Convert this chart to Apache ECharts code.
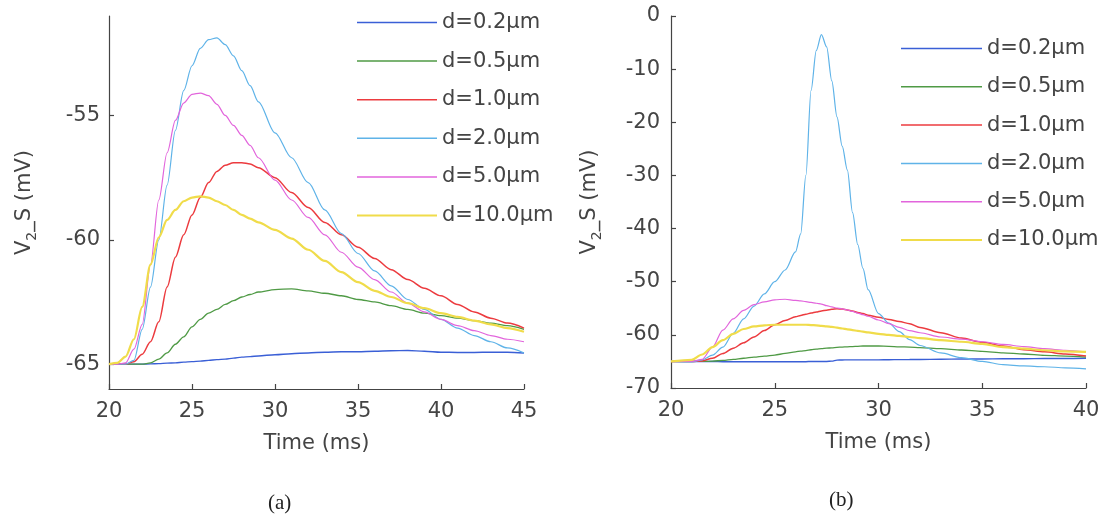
<!DOCTYPE html>
<html><head><meta charset="utf-8">
<script src="https://cdn.jsdelivr.net/npm/echarts@6/dist/echarts.min.js"></script>
<style>html,body{margin:0;padding:0;background:#fff}#c{width:1111px;height:516px}</style>
</head><body><div id="c"></div>
<script>
// legend names / colours
const names = ['d=0.2μm','d=0.5μm','d=1.0μm','d=2.0μm','d=5.0μm','d=10.0μm'];
const colors = ['#3a5fd6','#4f9a45','#ec3b3f','#5fb3e8','#e265dc','#f0dc4a'];
const widths = [1.4,1.3,1.5,1.2,1.2,2.2];

// panel (a): time (ms)
const tA = [20,20.5,21,21.5,22,22.5,23,23.5,24,24.5,25,25.5,26,26.5,27,27.5,28,28.5,29,30,31,32,33,34,35,36,37,38,39,40,41,42,43,44,45];
const blue02A = [-65,-65,-65,-65,-65,-64.99,-64.98,-64.96,-64.95,-64.92,-64.9,-64.88,-64.85,-64.82,-64.8,-64.76,-64.72,-64.7,-64.67,-64.62,-64.58,-64.55,-64.52,-64.5,-64.5,-64.48,-64.46,-64.45,-64.48,-64.52,-64.53,-64.53,-64.52,-64.52,-64.55];
const green05A = [-65,-65,-65,-65,-65,-64.95,-64.8,-64.55,-64.2,-63.9,-63.5,-63.2,-62.95,-62.8,-62.6,-62.45,-62.3,-62.2,-62.1,-62.0,-61.97,-62.05,-62.15,-62.25,-62.4,-62.5,-62.65,-62.8,-62.95,-63.05,-63.15,-63.25,-63.35,-63.45,-63.6];
const red10A = [-65,-65,-65,-64.9,-64.6,-64.1,-63.3,-61.9,-60.7,-59.8,-59.0,-58.3,-57.7,-57.25,-57.0,-56.9,-56.9,-56.95,-57.1,-57.5,-58.1,-58.7,-59.3,-59.8,-60.3,-60.75,-61.2,-61.6,-61.95,-62.25,-62.6,-62.9,-63.15,-63.35,-63.55];
const lb20A = [-65,-65,-65,-64.85,-63.6,-61.9,-60.0,-57.8,-55.6,-54.0,-53.0,-52.3,-51.95,-51.88,-52.15,-52.6,-53.2,-53.8,-54.45,-55.7,-56.7,-57.7,-58.8,-59.75,-60.55,-61.25,-61.85,-62.4,-62.8,-63.2,-63.55,-63.85,-64.1,-64.35,-64.55];
const mag50A = [-65,-65,-64.95,-64.4,-63.4,-61.0,-58.4,-56.5,-55.2,-54.5,-54.15,-54.1,-54.2,-54.55,-55.0,-55.4,-55.8,-56.2,-56.7,-57.6,-58.4,-59.1,-59.8,-60.5,-61.1,-61.6,-62.1,-62.55,-62.9,-63.2,-63.45,-63.65,-63.85,-64.0,-64.1];
const yel100A = [-65,-64.95,-64.7,-64.0,-62.7,-61.0,-59.9,-59.2,-58.8,-58.45,-58.3,-58.25,-58.3,-58.45,-58.6,-58.8,-59.0,-59.15,-59.3,-59.6,-59.95,-60.4,-60.85,-61.3,-61.7,-62.05,-62.3,-62.55,-62.75,-62.95,-63.1,-63.25,-63.4,-63.55,-63.7];

// panel (b): time (ms)
const tB = [20,21,21.5,22,22.5,23,23.5,24,24.5,25,25.5,26,26.25,26.5,26.75,27,27.25,27.5,27.75,28,28.25,28.5,28.75,29,29.25,29.5,30,30.5,31,31.5,32,33,34,35,36,37,38,39,40];
const blue02B = [-65,-65,-65,-65,-65.05,-65.05,-65.05,-65.05,-65.05,-65.05,-65.05,-65.05,-65.05,-65.05,-65.0,-65.0,-65.0,-65.0,-64.95,-64.75,-64.72,-64.7,-64.7,-64.7,-64.7,-64.7,-64.7,-64.68,-64.66,-64.65,-64.63,-64.6,-64.55,-64.55,-64.5,-64.5,-64.45,-64.45,-64.4];
const green05B = [-65,-65,-65,-64.95,-64.8,-64.6,-64.4,-64.2,-64.0,-63.8,-63.5,-63.2,-63.05,-62.95,-62.8,-62.7,-62.6,-62.5,-62.45,-62.35,-62.3,-62.25,-62.2,-62.15,-62.1,-62.1,-62.1,-62.15,-62.25,-62.3,-62.4,-62.6,-62.85,-63.1,-63.4,-63.6,-63.85,-64.0,-64.2];
const red10B = [-65,-65,-64.9,-64.4,-63.5,-62.5,-61.5,-60.4,-59.2,-58.1,-57.3,-56.6,-56.35,-56.1,-55.9,-55.7,-55.5,-55.35,-55.2,-55.1,-55.15,-55.3,-55.5,-55.8,-56.0,-56.3,-56.7,-57.1,-57.5,-57.9,-58.6,-59.6,-60.6,-61.4,-62.1,-62.8,-63.2,-63.6,-64.0];
const lb20B = [-65,-65.1,-64.7,-63.8,-62.3,-59.7,-57.0,-54.6,-52.3,-50.0,-47.8,-44.4,-41.0,-30.0,-14.0,-6.5,-3.5,-5.8,-12.2,-19.0,-24.5,-29.0,-37.0,-43.0,-47.5,-51.5,-56.0,-57.8,-59.4,-60.9,-62.0,-63.4,-64.3,-65.0,-65.6,-65.85,-66.0,-66.2,-66.4];
const mag50B = [-65,-65,-64.6,-62.3,-59.1,-57.0,-55.4,-54.3,-53.8,-53.4,-53.3,-53.5,-53.6,-53.75,-53.9,-54.05,-54.2,-54.5,-54.75,-54.95,-55.1,-55.3,-55.6,-55.9,-56.2,-56.5,-57.2,-57.9,-58.6,-59.2,-59.6,-60.4,-60.8,-61.3,-61.8,-62.2,-62.6,-62.9,-63.2];
const yel100B = [-65,-64.7,-63.7,-62.3,-61.0,-59.8,-58.9,-58.4,-58.2,-58.1,-58.1,-58.1,-58.1,-58.1,-58.15,-58.2,-58.3,-58.4,-58.5,-58.65,-58.8,-58.95,-59.1,-59.25,-59.4,-59.55,-59.8,-60.0,-60.2,-60.4,-60.6,-61.0,-61.3,-61.7,-62.3,-62.6,-62.9,-63.1,-63.2];

// tick labels
const yTicksA = [-65,-60,-55];
const panelLabels = ['(a)','(b)'];

const seriesA = [blue02A, green05A, red10A, lb20A, mag50A, yel100A];
const seriesB = [blue02B, green05B, red10B, lb20B, mag50B, yel100B];

const FONT = 'DejaVu Sans';
const TXT = '#444';

function mk(i, t, v, g) {
  return {
    type: 'line', name: names[i], xAxisIndex: g, yAxisIndex: g,
    data: t.map((x, k) => [x, v[k]]),
    symbol: 'none', smooth: 0.3, smoothMonotone: 'x',
    lineStyle: { color: colors[i], width: widths[i] },
    itemStyle: { color: colors[i] },
    z: 2
  };
}

function legendData(w) {
  return names.map((n, i) => {
    const h = Math.max(1.5, widths[i]);
    return { name: n, icon: 'path://M0,0L' + w + ',0L' + w + ',' + h + 'L0,' + h + 'Z' };
  });
}

function xAx(g, max) {
  return {
    type: 'value', gridIndex: g, min: 20, max: max, interval: 5,
    name: 'Time (ms)', nameLocation: 'middle', nameGap: 44,
    nameTextStyle: { fontFamily: FONT, fontSize: 21, color: TXT },
    axisLine: { show: true, onZero: false, lineStyle: { color: '#444', width: 1.2 } },
    axisTick: { show: true, inside: true, length: 5, lineStyle: { color: '#444', width: 1.2 } },
    axisLabel: { fontFamily: FONT, fontSize: 21, color: TXT, margin: 12 },
    splitLine: { show: false }
  };
}
const yName = '{a|V}{b|2}{a|_S (mV)}';
const yRich = {
  a: { fontFamily: FONT, fontSize: 21, color: TXT, lineHeight: 28 },
  b: { fontFamily: FONT, fontSize: 14, color: TXT, lineHeight: 16, verticalAlign: 'bottom' }
};

const option = {
  animation: false,
  backgroundColor: '#ffffff',
  title: [
    { text: panelLabels[0], left: 268, top: 493, padding: 0, textStyle: { fontFamily: 'Liberation Serif', fontSize: 21, fontWeight: 'normal', color: '#222' } },
    { text: panelLabels[1], left: 829, top: 490, padding: 0, textStyle: { fontFamily: 'Liberation Serif', fontSize: 21, fontWeight: 'normal', color: '#222' } }
  ],
  legend: [
    { data: legendData(80), orient: 'vertical', left: 357, top: 12, padding: 0, itemWidth: 80, itemHeight: 20, itemGap: 17.6,
      textStyle: { fontFamily: FONT, fontSize: 21, color: TXT, lineHeight: 20 } },
    { data: legendData(81), orient: 'vertical', left: 901, top: 38, padding: 0, itemWidth: 81, itemHeight: 20, itemGap: 17.3,
      textStyle: { fontFamily: FONT, fontSize: 21, color: TXT, lineHeight: 20 } }
  ],
  grid: [
    { left: 109, top: 16, width: 415, height: 373 },
    { left: 671, top: 16, width: 415, height: 372 }
  ],
  xAxis: [xAx(0, 45), xAx(1, 40)],
  yAxis: [
    { type: 'value', gridIndex: 0, min: -66, max: -51,
      name: yName, nameLocation: 'middle', nameGap: 70, nameRotate: 90,
      nameTextStyle: { rich: yRich },
      axisLine: { show: true, onZero: false, lineStyle: { color: '#444', width: 1.2 } },
      axisTick: { show: true, inside: true, length: 5, customValues: yTicksA, lineStyle: { color: '#444', width: 1.2 } },
      axisLabel: { fontFamily: FONT, fontSize: 21, color: TXT, margin: 9, customValues: yTicksA },
      splitLine: { show: false } },
    { type: 'value', gridIndex: 1, min: -70, max: 0, interval: 10,
      name: yName, nameLocation: 'middle', nameGap: 67, nameRotate: 90,
      nameTextStyle: { rich: yRich },
      axisLine: { show: true, onZero: false, lineStyle: { color: '#444', width: 1.2 } },
      axisTick: { show: true, inside: true, length: 5, lineStyle: { color: '#444', width: 1.2 } },
      axisLabel: { fontFamily: FONT, fontSize: 21, color: TXT, margin: 11 },
      splitLine: { show: false } }
  ],
  series: [
    ...seriesA.map((v, i) => mk(i, tA, v, 0)),
    ...seriesB.map((v, i) => mk(i, tB, v, 1))
  ]
};
const chart = echarts.init(document.getElementById('c'), null, { renderer: 'canvas' });
chart.setOption(option);
</script>
</body></html>
